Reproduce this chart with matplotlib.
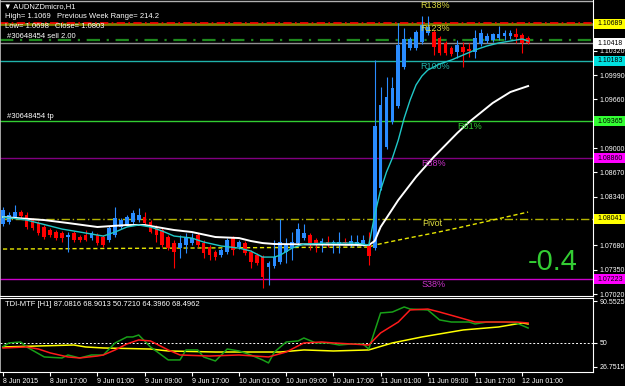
import matplotlib
matplotlib.use("Agg")
import matplotlib.pyplot as plt
from matplotlib.patches import Rectangle
from matplotlib.transforms import blended_transform_factory

plt.rcParams['font.family'] = ['Liberation Sans', 'DejaVu Sans']

# AUDNZDmicro H1, one bar per hour starting 8 Jun 2015 09:00
opens = [1.07969, 1.07996, 1.08064, 1.08132, 1.08091, 1.08023, 1.07983, 1.07929, 1.07888, 1.07861,
         1.07847, 1.07793, 1.07847, 1.07793, 1.07820, 1.07779, 1.07820, 1.07793, 1.07752, 1.07820,
         1.07929, 1.07956, 1.07996, 1.08023, 1.08064, 1.07996, 1.07929, 1.07888, 1.07793, 1.07711,
         1.07643, 1.07684, 1.07711, 1.07820, 1.07711, 1.07657, 1.07589, 1.07548, 1.07589, 1.07779,
         1.07657, 1.07711, 1.07589, 1.07548, 1.07521, 1.07386, 1.07399, 1.07453, 1.07589, 1.07643,
         1.07711, 1.07779, 1.07820, 1.07752, 1.07711, 1.07725, 1.07711, 1.07698, 1.07725, 1.07698,
         1.07698, 1.07698, 1.07684, 1.07643, 1.08458, 1.09014, 1.09353, 1.09570, 1.10099, 1.10357,
         1.10357, 1.10438, 1.10560, 1.10574, 1.10493, 1.10425, 1.10357, 1.10302, 1.10370, 1.10343,
         1.10302, 1.10411, 1.10452, 1.10465, 1.10493, 1.10520, 1.10520, 1.10547, 1.10533, 1.10493]
highs = [1.08200, 1.08132, 1.08227, 1.08159, 1.08132, 1.08051, 1.08010, 1.07956, 1.07915, 1.07888,
         1.07874, 1.07861, 1.07874, 1.07820, 1.07888, 1.07874, 1.07847, 1.07820, 1.07942, 1.08200,
         1.08051, 1.08091, 1.08159, 1.08186, 1.08132, 1.08023, 1.07956, 1.07915, 1.07820, 1.07752,
         1.07820, 1.07847, 1.07847, 1.07847, 1.07752, 1.07684, 1.07616, 1.07643, 1.07779, 1.07806,
         1.07752, 1.07739, 1.07616, 1.07575, 1.07548, 1.07467, 1.07752, 1.08037, 1.07779, 1.07861,
         1.07983, 1.07969, 1.07847, 1.07779, 1.07779, 1.07806, 1.07752, 1.07861, 1.07779, 1.07820,
         1.07820, 1.07820, 1.07861, 1.10194, 1.09828, 1.09963, 1.09963, 1.10696, 1.10628, 1.10506,
         1.10601, 1.10791, 1.10791, 1.10601, 1.10520, 1.10452, 1.10384, 1.10465, 1.10438, 1.10425,
         1.10601, 1.10615, 1.10560, 1.10560, 1.10655, 1.10601, 1.10601, 1.10628, 1.10560, 1.10520]
lows = [1.07942, 1.07969, 1.08051, 1.08051, 1.07901, 1.07888, 1.07820, 1.07766, 1.07793, 1.07752,
        1.07725, 1.07589, 1.07725, 1.07725, 1.07739, 1.07752, 1.07684, 1.07657, 1.07725, 1.07793,
        1.07901, 1.07942, 1.07969, 1.07996, 1.07956, 1.07847, 1.07725, 1.07657, 1.07616, 1.07372,
        1.07508, 1.07575, 1.07684, 1.07657, 1.07508, 1.07481, 1.07481, 1.07521, 1.07562, 1.07548,
        1.07630, 1.07548, 1.07372, 1.07413, 1.07101, 1.07141, 1.07372, 1.07426, 1.07440, 1.07481,
        1.07684, 1.07752, 1.07616, 1.07589, 1.07589, 1.07657, 1.07575, 1.07575, 1.07684, 1.07657,
        1.07671, 1.07671, 1.07413, 1.07616, 1.08431, 1.08987, 1.09326, 1.09543, 1.10072, 1.10330,
        1.10330, 1.10411, 1.10533, 1.10262, 1.10262, 1.10262, 1.10248, 1.10221, 1.10099, 1.10235,
        1.10221, 1.10384, 1.10425, 1.10438, 1.10465, 1.10465, 1.10479, 1.10425, 1.10289, 1.10411]
closes = [1.08159, 1.08091, 1.08132, 1.08078, 1.07929, 1.07915, 1.07847, 1.07793, 1.07820, 1.07779,
          1.07779, 1.07820, 1.07752, 1.07752, 1.07752, 1.07847, 1.07711, 1.07684, 1.07915, 1.08051,
          1.08023, 1.08064, 1.08118, 1.08091, 1.07983, 1.07861, 1.07820, 1.07684, 1.07643, 1.07589,
          1.07711, 1.07793, 1.07779, 1.07684, 1.07575, 1.07548, 1.07521, 1.07616, 1.07752, 1.07616,
          1.07725, 1.07575, 1.07453, 1.07440, 1.07250, 1.07440, 1.07521, 1.07725, 1.07684, 1.07725,
          1.07901, 1.07847, 1.07684, 1.07711, 1.07739, 1.07684, 1.07725, 1.07725, 1.07711, 1.07739,
          1.07725, 1.07752, 1.07535, 1.09299, 1.09584, 1.09692, 1.09814, 1.10397, 1.10479, 1.10479,
          1.10574, 1.10669, 1.10642, 1.10370, 1.10289, 1.10289, 1.10275, 1.10397, 1.10302, 1.10316,
          1.10493, 1.10560, 1.10520, 1.10547, 1.10547, 1.10560, 1.10560, 1.10506, 1.10425, 1.10418]

# moving averages (bar index, price)
fast_ma_bars = [0, 4, 8, 10, 13, 16, 17, 19, 21, 23, 25, 27, 29, 32, 34, 37, 40, 42, 44, 46, 47, 49,
                51, 55, 60, 62, 63, 64, 65, 66, 67, 68, 69, 70, 71, 72, 74, 76, 78, 80, 82, 84, 86, 88, 89]
fast_ma = [1.08064, 1.08023, 1.07942, 1.07901, 1.07861, 1.07820, 1.07806, 1.07861, 1.07929, 1.07956,
           1.07929, 1.07874, 1.07806, 1.07779, 1.07725, 1.07671, 1.07643, 1.07603, 1.07521, 1.07521,
           1.07548, 1.07643, 1.07698, 1.07711, 1.07711, 1.07684, 1.08091, 1.08431, 1.08675, 1.08865,
           1.09109, 1.09407, 1.09651, 1.09855, 1.09977, 1.10058, 1.10140, 1.10194, 1.10262, 1.10330,
           1.10384, 1.10425, 1.10452, 1.10479, 1.10452]
slow_ma_bars = [0, 7, 11, 16, 21, 24, 29, 32, 36, 40, 42, 44, 46, 62, 63, 64, 67, 70, 73, 77, 79, 83, 86, 89]
slow_ma = [1.08064, 1.08023, 1.07983, 1.07929, 1.07956, 1.07956, 1.07888, 1.07861, 1.07793, 1.07779,
           1.07739, 1.07711, 1.07698, 1.07684, 1.07739, 1.07929, 1.08295, 1.08607, 1.08878, 1.09204,
           1.09353, 1.09611, 1.09760, 1.09841]
base_bars = [0, 62, 63, 67, 73, 77, 89]
base_line = [1.07630, 1.07657, 1.07684, 1.07752, 1.07847, 1.07915, 1.08132]

# pivot / fibo levels
level_values = [1.11001, 1.10689, 1.10183, 1.09365, 1.08860, 1.08041, 1.07223]
level_names = ['R138%', 'R123%', 'R100%', 'R61%', 'R38%', 'Pivot', 'S38%']
level_line_colors = ['#b0b0b0', '#808000', '#20b2aa', '#32cd32', '#800080', '#b4b400', '#cc00cc']
level_text_colors = ['#d8d840', '#d8d840', '#20b2aa', '#33cc33', '#cc33cc', '#e0e040', '#cc33cc']
level_label_bars = [70.7, 70.7, 70.7, 77, 70.9, 71.0, 70.9]

box_values = [1.10689, 1.10418, 1.10183, 1.09365, 1.08860, 1.08041, 1.07223]
box_colors = ['#ffff00', '#ffffff', '#00e0e0', '#33ff33', '#ff00ff', '#ffff00', '#ff00ff']
price_ticks = [1.10650, 1.10320, 1.09990, 1.09660, 1.09330, 1.09000, 1.08670,
               1.08340, 1.08010, 1.07680, 1.07350, 1.07020]
# these three sit under the coloured price boxes
hidden_ticks = [1.10650, 1.09330, 1.08010]

prev_week_high = 1.10700
order_price = 1.10459
bid = 1.10418

# TDI sub-window (bar index, value)
rsi_bars = [0, 1, 3, 4, 7, 10, 11, 13, 15, 17, 19, 21, 22, 23, 25, 28, 30, 31, 33, 34, 36, 38, 40, 42,
            44, 45, 46, 48, 50, 51, 53, 55, 57, 59, 61, 62, 64, 66, 68, 69, 72, 74, 76, 79, 80, 82, 85, 87, 89]
rsi_line = [46.3, 49.9, 50.8, 46.0, 36.3, 35.3, 38.2, 35.3, 38.2, 38.2, 49.9, 55.7, 55.7, 57.6, 46.0,
            33.4, 33.4, 43.1, 43.1, 36.3, 32.4, 44.0, 42.1, 38.2, 33.4, 30.5, 41.1, 50.8, 51.8, 54.7,
            49.9, 49.9, 47.9, 48.9, 48.9, 44.0, 79.0, 79.9, 84.8, 82.8, 81.9, 72.2, 70.2, 70.2, 68.3,
            70.2, 70.2, 69.3, 64.4]
signal_bars = [0, 4, 6, 8, 11, 13, 16, 17, 19, 21, 23, 25, 28, 30, 35, 40, 45, 48, 51, 54, 56, 59,
               62, 64, 67, 69, 72, 74, 77, 80, 87, 89]
signal_line = [45.0, 46.0, 44.0, 40.2, 36.3, 35.3, 37.2, 38.2, 43.1, 48.9, 52.8, 51.8, 43.1, 38.2,
               37.2, 38.2, 36.3, 41.1, 49.9, 50.8, 49.9, 48.9, 47.9, 59.6, 70.2, 81.9, 82.8, 79.9,
               75.1, 70.2, 70.2, 69.3]
mbl_bars = [0, 12, 14, 17, 25, 28, 36, 47, 51, 56, 62, 66, 71, 78, 84, 88, 89]
mbl_line = [46.0, 47.9, 46.0, 45.0, 44.0, 42.1, 41.1, 41.1, 43.1, 42.1, 43.1, 49.9, 55.7, 62.5,
            65.4, 69.3, 68.3]
tdi_ticks = [26.7515, 50, 90.5525]

date_bars = [0, 8, 16, 24, 32, 40, 48, 56, 64, 72, 80, 88]
date_labels = ['8 Jun 2015', '8 Jun 17:00', '9 Jun 01:00', '9 Jun 09:00', '9 Jun 17:00',
               '10 Jun 01:00', '10 Jun 09:00', '10 Jun 17:00', '11 Jun 01:00', '11 Jun 09:00',
               '11 Jun 17:00', '12 Jun 01:00']

W, H = 625, 386
fig = plt.figure(figsize=(W / 100, H / 100), dpi=100, facecolor='black')
ax = fig.add_axes([0, 1 - 296 / H, 593 / W, 296 / H], facecolor='black')
ax2 = fig.add_axes([0, 1 - 372 / H, 593 / W, 74 / H], facecolor='black', sharex=ax)

bull, bear = '#2a8cff', '#ff0000'
bars = list(range(len(opens)))
cols = [bull if c >= o else bear for o, c in zip(opens, closes)]
bottoms = [min(o, c) for o, c in zip(opens, closes)]
heights = [max(abs(c - o), 0.00009) for o, c in zip(opens, closes)]

# levels
for v, lc in zip(level_values, level_line_colors):
    ls = (0, (6, 2, 1, 2)) if lc == '#b4b400' else '-'
    lw = 2 if lc == '#808000' else 1
    ax.axhline(v, color=lc, lw=lw, ls=ls, zorder=1)
ax.axhline(prev_week_high, color='#ff0000', lw=1.2, ls=(0, (5, 2, 1, 2)), zorder=1.5)
ax.axhline(order_price, color='#1e8a1e', lw=1.6, ls=(0, (6, 3, 1, 3)), zorder=1.5)
ax.axhline(bid, color='#909090', lw=1, zorder=1.5)

ax.vlines(bars, lows, highs, colors=cols, lw=0.8, zorder=3)
ax.bar(bars, heights, bottom=bottoms, width=0.64, color=cols, linewidth=0, zorder=4)

ax.plot(base_bars, base_line, color='#e6e600', lw=1, ls=(0, (3, 2)), zorder=2)
ax.plot(slow_ma_bars, slow_ma, color='white', lw=1.4, zorder=5)
ax.plot(fast_ma_bars, fast_ma, color='#20c8c8', lw=1, zorder=6)

for v, name, tc, xb in zip(level_values, level_names, level_text_colors, level_label_bars):
    ax.annotate(name, xy=(xb, v), xytext=(0, -0.5), textcoords='offset points',
                color=tc, fontsize=6.5, va='top', ha='left', zorder=7)

ax.set_xlim(-0.51, 100)
ax.set_ylim(1.06993, 1.11008)
ax.yaxis.tick_right()
ax.set_yticks(price_ticks)
ax.set_yticklabels(['' if t in hidden_ticks else f"{t:.5f}" for t in price_ticks])
ax.tick_params(axis='y', colors='white', labelsize=5, length=3, width=0.8, pad=2)
ax.tick_params(axis='x', bottom=False, labelbottom=False)

trans = blended_transform_factory(fig.transFigure, ax.transData)
for v, c in zip(box_values, box_colors):
    fig.add_artist(Rectangle((594 / W, v - 0.00068), 31 / W, 0.00136, transform=trans,
                             facecolor=c, edgecolor='none', zorder=5))
    fig.text(597 / W, v, f"{v:.5f}", transform=trans, color='black', fontsize=5,
             va='center', ha='left', zorder=6)

# TDI
ax2.axhline(50, color='white', lw=0.7, ls=(0, (2, 2)), zorder=1)
ax2.plot(mbl_bars, mbl_line, color='#ffff00', lw=1.1, zorder=2)
ax2.plot(rsi_bars, rsi_line, color='#18a018', lw=1.1, zorder=3)
ax2.plot(signal_bars, signal_line, color='#ff1a1a', lw=1.1, zorder=4)
ax2.set_ylim(21.7, 93.5)
ax2.yaxis.tick_right()
ax2.set_yticks(tdi_ticks)
ax2.set_yticklabels(['26.7515', '50', '90.5525'])
ax2.tick_params(axis='y', colors='white', labelsize=5, length=3, width=0.8, pad=2)
ax2.set_xticks(date_bars)
ax2.set_xticklabels(date_labels)
for lbl in ax2.get_xticklabels():
    lbl.set_ha('left')
ax2.tick_params(axis='x', colors='white', labelsize=5, length=3, width=0.8, pad=1.5)

for a in (ax, ax2):
    for side in ('top', 'bottom', 'right'):
        a.spines[side].set_color('white')
        a.spines[side].set_linewidth(0.8)
    a.spines['left'].set_color('#c0c0c0')
    a.spines['left'].set_linewidth(1.2)
ax.spines['top'].set_visible(False)

# captions
def fx(x):
    return x / W

def fy(y):
    return 1 - y / H

txt = dict(color='white', fontsize=5.5, va='center', ha='left')
fig.text(fx(4), fy(7), '\u25bc AUDNZDmicro,H1', **txt)
fig.text(fx(5), fy(17), 'High= 1.1069', **txt)
fig.text(fx(57), fy(17), 'Previous Week Range= 214.2', **txt)
fig.text(fx(5), fy(26), 'Low= 1.0698', **txt)
fig.text(fx(55), fy(26), 'Close= 1.0803', **txt)
fig.text(fx(7), fy(36), '#30648454 sell 2.00', **txt)
fig.text(fx(7), fy(116), '#30648454 tp', **txt)
fig.text(fx(5), fy(304), 'TDI-MTF [H1] 87.0816 68.9013 50.7210 64.3960 68.4962', **txt)
fig.text(fx(553), fy(262), '-0.4', color='#33cc33', fontsize=21, ha='center', va='center')

fig.savefig('out.png', dpi=100, facecolor='black')
